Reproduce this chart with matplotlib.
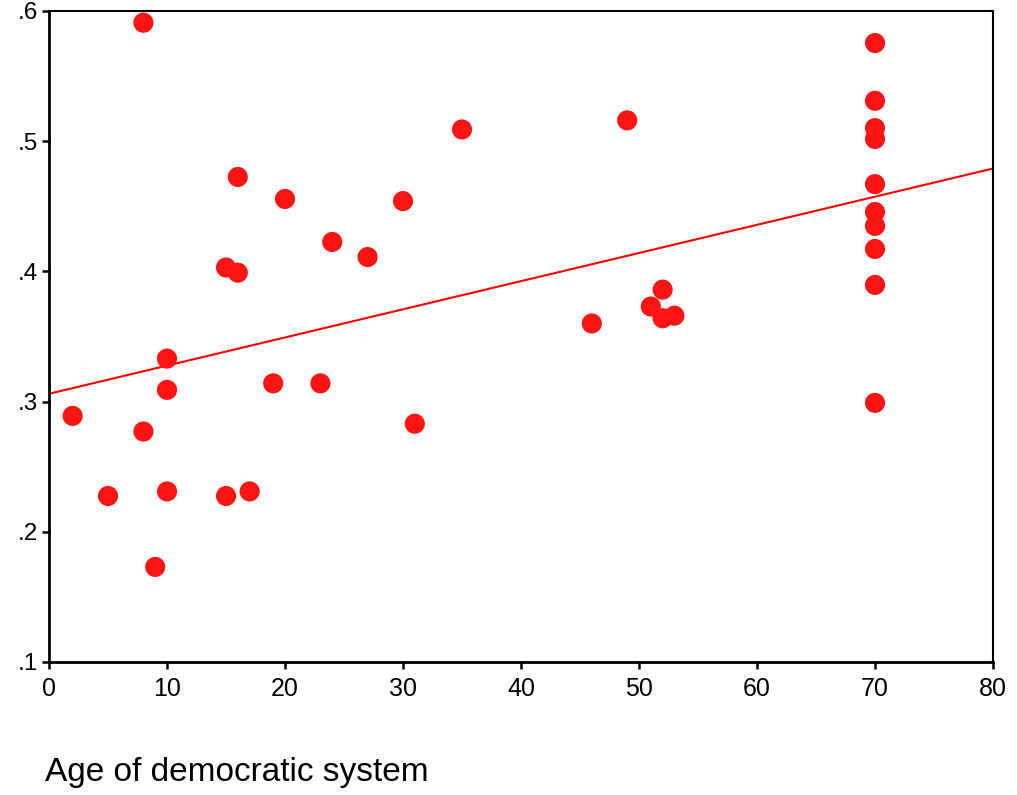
import matplotlib
matplotlib.use('Agg')
import matplotlib.pyplot as plt
from matplotlib.ticker import FuncFormatter

plt.rcParams['font.family'] = ['Liberation Sans', 'DejaVu Sans']

# age of democratic system (years)
age = [8, 2, 5, 8, 9, 10, 10, 10, 15, 16, 16, 15, 17, 19, 20, 23, 24, 27,
       30, 31, 35, 46, 49, 51, 52, 52, 53,
       70, 70, 70, 70, 70, 70, 70, 70, 70, 70]
# value on the y axis
valor = [0.591, 0.289, 0.2275, 0.277, 0.173, 0.333, 0.309, 0.231, 0.403,
         0.399, 0.4725, 0.2275, 0.231, 0.314, 0.4556, 0.314, 0.4226, 0.411,
         0.454, 0.283, 0.509, 0.360, 0.516, 0.373, 0.386, 0.364, 0.366,
         0.5754, 0.531, 0.510, 0.5017, 0.467, 0.4456, 0.4349, 0.4172,
         0.3896, 0.299]

# regression line (end points)
recta_x = [0, 80]
recta_y = [0.306, 0.479]

fig = plt.figure(figsize=(10.17, 7.95), dpi=100)
ax = fig.add_axes([0.0482, 0.1673, 0.9282, 0.8189])

ax.scatter(age, valor, s=210, color='#ff1414', edgecolors='none', zorder=3)
ax.plot(recta_x, recta_y, color='#ff0000', lw=1.5, zorder=2)

ax.set_xlim(0, 80)
ax.set_ylim(0.1, 0.6)
ax.set_xticks(range(0, 81, 10))
ax.set_yticks([0.1, 0.2, 0.3, 0.4, 0.5, 0.6])
ax.yaxis.set_major_formatter(FuncFormatter(lambda v, p: f'{v:.1f}'.lstrip('0')))

ax.tick_params(axis='x', labelsize=18, direction='out', length=5, width=1.8, pad=6)
ax.tick_params(axis='y', labelsize=17.5, direction='out', length=5, width=1.8, pad=3)
for lado in ['left', 'bottom']:
    ax.spines[lado].set_linewidth(2)
for lado in ['top', 'right']:
    ax.spines[lado].set_linewidth(1.5)

fig.text(0.044, 0.018, 'Age of democratic system', fontsize=24, ha='left', va='baseline')

fig.savefig('out.png', dpi=100)
